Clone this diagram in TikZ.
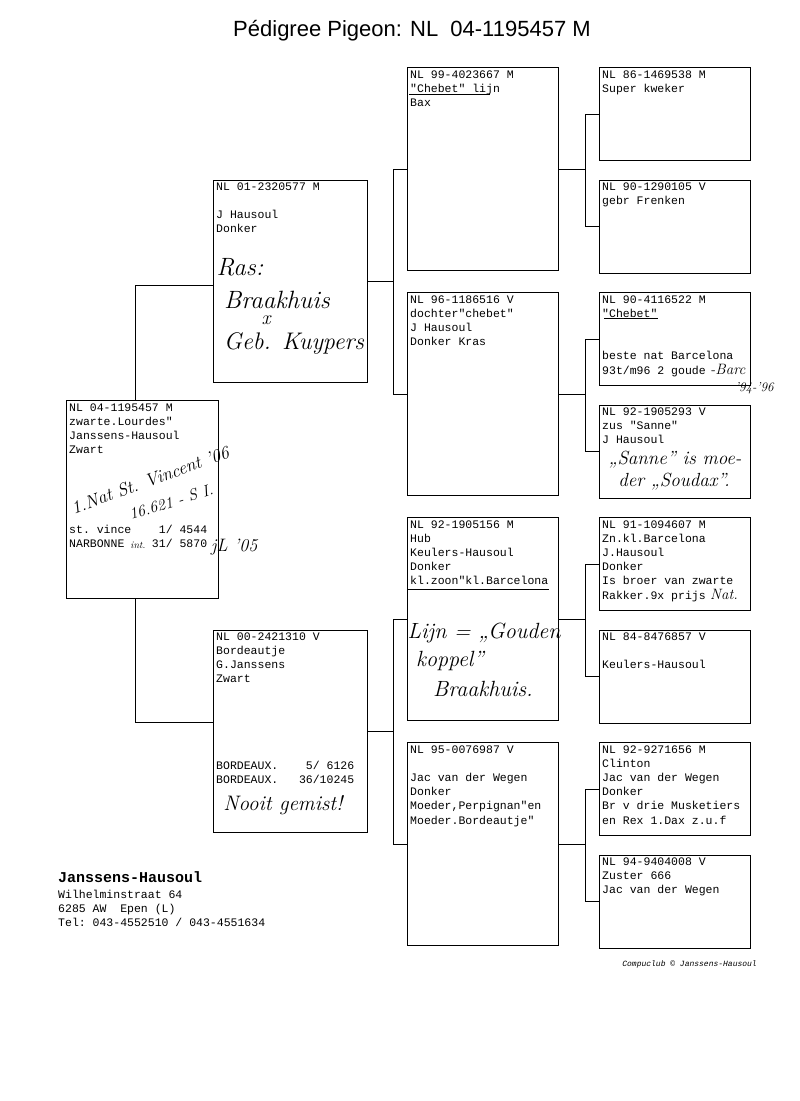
\documentclass[tikz,border=0pt]{standalone}
\usepackage{fontspec}
\setmonofont{Liberation Mono}
\newfontfamily\titlefont{Liberation Sans}
\newcommand\tyb[1]{\parbox[t]{280pt}{\raggedright\ttfamily\fontsize{11.5}{14.2}\selectfont #1}}
\tikzset{
  pbox/.style={draw, line width=0.8pt, anchor=north west, inner sep=0pt},
  gen1/.style={pbox, minimum width=152pt, minimum height=198pt},
  gen2/.style={pbox, minimum width=154pt, minimum height=202pt},
  gen3/.style={pbox, minimum width=151pt, minimum height=203pt},
  gen4/.style={pbox, minimum width=151pt, minimum height=93pt},
  typed/.style={anchor=base west, inner sep=0pt},
  hand/.style={inner sep=0pt, font=\itshape\fontsize{#1}{#1}\selectfont},
  link/.style={line width=0.8pt},
  uline/.style={line width=1pt},
}
\begin{document}
\begin{tikzpicture}[x=1pt, y=-1pt]
\fill[white] (0,0) rectangle (800,1101);
\useasboundingbox (0,0) rectangle (800,1101);

% title
\node[anchor=base, inner sep=0pt, font=\titlefont\fontsize{22}{26}\selectfont] (title) at (412,36) {Pédigree Pigeon: NL\ \ 04-1195457 M};

% boxes
\node[gen1] (g1) at (66,400) {};
\node[gen2] (g2a) at (213,180) {};
\node[gen2] (g2b) at (213,630) {};
\node[gen3] (g3a) at (407,67) {};
\node[gen3] (g3b) at (407,292) {};
\node[gen3] (g3c) at (407,517) {};
\node[gen3] (g3d) at (407,742) {};
\node[gen4] (h1) at (599,67) {};
\node[gen4] (h2) at (599,179.5) {};
\node[gen4] (h3) at (599,292) {};
\node[gen4] (h4) at (599,404.5) {};
\node[gen4] (h5) at (599,517) {};
\node[gen4] (h6) at (599,629.5) {};
\node[gen4] (h7) at (599,742) {};
\node[gen4] (h8) at (599,854.5) {};

% connectors gen1 -> gen2
\draw[link] ([xshift=-7pt]g1.north) |- ([yshift=-4pt]g2a.west);
\draw[link] ([xshift=-7pt]g1.south) |- ([yshift=9pt]g2b.west);
% gen2 -> gen3
\draw[link] (g3a.west) -- ++(-14,0) coordinate (ja) -- (ja |- g3b.west) -- (g3b.west);
\draw[link] (g2a.east) -- (g2a.east -| ja);
\draw[link] (g3c.west) -- ++(-14,0) coordinate (jb) -- (jb |- g3d.west) -- (g3d.west);
\draw[link] (g2b.east) -- (g2b.east -| jb);
% gen3 -> gen4
\draw[link] (h1.west) -- ++(-14,0) coordinate (ka) -- (ka |- h2.west) -- (h2.west);
\draw[link] (g3a.east) -- (g3a.east -| ka);
\draw[link] (h3.west) -- ++(-14,0) coordinate (kb) -- (kb |- h4.west) -- (h4.west);
\draw[link] (g3b.east) -- (g3b.east -| kb);
\draw[link] (h5.west) -- ++(-14,0) coordinate (kc) -- (kc |- h6.west) -- (h6.west);
\draw[link] (g3c.east) -- (g3c.east -| kc);
\draw[link] (h7.west) -- ++(-14,0) coordinate (kd) -- (kd |- h8.west) -- (h8.west);
\draw[link] (g3d.east) -- (g3d.east -| kd);

% gen1 text
\node[typed] (t1) at (69,411) {\tyb{NL 04-1195457 M\\zwarte.Lourdes"\\Janssens-Hausoul\\Zwart}};
\node[typed] (t1b) at (69,533) {\tyb{st. vince\ \ \ \ 1/ 4544\\NARBONNE\ \ \ \ 31/ 5870}};
\node[hand=18, rotate=20] (w1) at (150,480) {1.Nat St. Vincent ’06};
\node[hand=16, rotate=17] (w2) at (171,502) {16.621 - S I.};
\node[hand=10] (w3) at (138,545) {int.};
\node[hand=18, anchor=base west] (w4) at (211,551) {jL ’05};

% gen2 text
\node[typed] (t2a) at (216,190) {\tyb{NL 01-2320577 M\\\mbox{}\\J Hausoul\\Donker}};
\node[hand=25] (w5) at (240,267) {Ras:};
\node[hand=25] (w6) at (277,300) {Braakhuis};
\node[hand=20] (w7) at (266,320) {x};
\node[hand=24] (w8) at (294,343) {Geb. Kuypers};

\node[typed] (t2b) at (216,640) {\tyb{NL 00-2421310 V\\Bordeautje\\G.Janssens\\Zwart}};
\node[typed] (t2c) at (216,769) {\tyb{BORDEAUX.\ \ \ \ 5/ 6126\\BORDEAUX.\ \ \ 36/10245}};
\node[hand=21] (w9) at (283,805) {Nooit gemist!};

% gen3 text
\node[typed] (t3a) at (410,78) {\tyb{NL 99-4023667 M\\"Chebet" lijn\\Bax}};
\draw[uline] (409,94) -- (490,94);
\node[typed] (t3b) at (410,303) {\tyb{NL 96-1186516 V\\dochter"chebet"\\J Hausoul\\Donker Kras}};
\node[typed] (t3c) at (410,528) {\tyb{NL 92-1905156 M\\Hub\\Keulers-Hausoul\\Donker\\kl.zoon"kl.Barcelona}};
\draw[uline] (408,589) -- (549,589);
\node[hand=22] (w10) at (484,633) {Lijn = „Gouden};
\node[hand=22] (w11) at (450,661) {koppel”};
\node[hand=22] (w12) at (483,689) {Braakhuis.};
\node[typed] (t3d) at (410,753) {\tyb{NL 95-0076987 V\\\mbox{}\\Jac van der Wegen\\Donker\\Moeder,Perpignan"en\\Moeder.Bordeautje"}};

% gen4 text
\node[typed] (t4a) at (602,78) {\tyb{NL 86-1469538 M\\Super kweker}};
\node[typed] (t4b) at (602,190.5) {\tyb{NL 90-1290105 V\\gebr Frenken}};
\node[typed] (t4c) at (602,303) {\tyb{NL 90-4116522 M\\"Chebet"\\\mbox{}\\\mbox{}\\beste nat Barcelona\\93t/m96 2 goude}};
\draw[uline] (604,318) -- (658,318);
\node[hand=15, anchor=base west] (w13) at (710,374) {-Barc};
\node[hand=13, anchor=base west] (w14) at (735,391) {’94-’96};
\node[typed] (t4d) at (602,415.5) {\tyb{NL 92-1905293 V\\zus "Sanne"\\J Hausoul}};
\node[hand=19] (w15) at (675,460) {„Sanne” is moe-};
\node[hand=19] (w16) at (674,482) {der „Soudax”.};
\node[typed] (t4e) at (602,528) {\tyb{NL 91-1094607 M\\Zn.kl.Barcelona\\J.Hausoul\\Donker\\Is broer van zwarte\\Rakker.9x prijs}};
\node[hand=15, anchor=base west] (w17) at (710,599) {Nat.};
\node[typed] (t4f) at (602,640.5) {\tyb{NL 84-8476857 V\\\mbox{}\\Keulers-Hausoul}};
\node[typed] (t4g) at (602,753) {\tyb{NL 92-9271656 M\\Clinton\\Jac van der Wegen\\Donker\\Br v drie Musketiers\\en Rex 1.Dax z.u.f}};
\node[typed] (t4h) at (602,865.5) {\tyb{NL 94-9404008 V\\Zuster 666\\Jac van der Wegen}};

% address
\node[typed, font=\ttfamily\bfseries\fontsize{15}{16}\selectfont] (ad1) at (58,882) {Janssens-Hausoul};
\node[typed] (ad2) at (58,898) {\tyb{Wilhelminstraat 64\\6285 AW\ \ Epen (L)\\Tel: 043-4552510 / 043-4551634}};

% footer
\node[anchor=base east, inner sep=0pt, font=\ttfamily\itshape\fontsize{8}{9}\selectfont] (foot) at (757,966) {Compuclub © Janssens-Hausoul};
\end{tikzpicture}
\end{document}
